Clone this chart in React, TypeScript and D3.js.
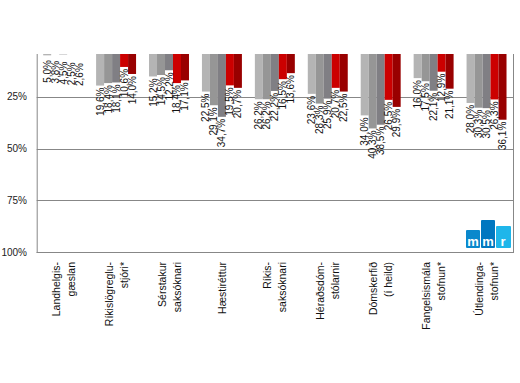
import React from "react";
import * as d3 from "d3";

const categories: string[][] = [
  ["Landhelgis-", "gæslan"],
  ["Ríkislögreglu-", "stjóri*"],
  ["Sérstakur", "saksóknari"],
  ["Hæstiréttur"],
  ["Ríkis-", "saksóknari"],
  ["Héraðsdóm-", "stólarnir"],
  ["Dómskerfið", "(í heild)"],
  ["Fangelsismála", "stofnun*"],
  ["Útlendinga-", "stofnun*"],
];

const seriesNames = ["s1", "s2", "s3", "s4", "s5"];
const seriesColors = ["#b4b4b4", "#969696", "#807f84", "#cc0000", "#990000"];

const s1 = [5.0, 19.6, 15.2, 22.5, 26.2, 23.6, 34.0, 16.0, 28.0];
const s2 = [3.8, 18.4, 14.5, 29.1, 26.2, 28.3, 40.3, 17.5, 30.3];
const s3 = [4.5, 18.1, 12.2, 34.7, 22.2, 25.9, 38.5, 22.1, 30.5];
const s4 = [2.5, 10.6, 18.4, 19.5, 16.5, 20.7, 26.5, 12.9, 26.3];
const s5 = [2.6, 14.0, 17.1, 20.7, 13.6, 22.5, 29.9, 21.1, 36.1];
const seriesValues = [s1, s2, s3, s4, s5];

const yTicks = [25, 50, 75, 100];

const W = 520;
const H = 383;
const left = 36.7;
const right = 513;
const top0 = 45;
const bottom = 252;
const clipTop = 54;

const fmt = (v: number) => v.toFixed(1).replace(".", ",") + "%";

export default function App() {
  const catKeys = categories.map((c) => c.join(" "));
  const x = d3
    .scaleBand<string>()
    .domain(catKeys)
    .range([left, right])
    .paddingInner(0.245)
    .paddingOuter(0.1225);
  const xs = d3
    .scaleBand<string>()
    .domain(seriesNames)
    .range([0, x.bandwidth()])
    .padding(0);
  const y = d3.scaleLinear().domain([0, 100]).range([top0, bottom]);
  const step = x.step();

  return (
    <svg
      width={W}
      height={H}
      style={{ position: "absolute", left: 0, top: 0, display: "block", background: "#fff" }}
      fontFamily="'Liberation Sans', Arial, sans-serif"
    >
      <defs>
        <clipPath id="plotClip">
          <rect x={0} y={clipTop} width={W} height={H - clipTop} />
        </clipPath>
      </defs>
      {/* gridlines */}
      {yTicks.map((t) => (
        <line
          key={t}
          x1={left}
          x2={right}
          y1={Math.round(y(t)) + 0.5}
          y2={Math.round(y(t)) + 0.5}
          stroke="#878787"
          strokeWidth={1}
        />
      ))}
      {/* bars */}
      <g clipPath="url(#plotClip)">
        {catKeys.map((c, ci) =>
          seriesNames.map((s, si) => (
            <rect
              key={c + s}
              x={(x(c) as number) + (xs(s) as number)}
              y={y(0)}
              width={xs.bandwidth()}
              height={y(seriesValues[si][ci]) - y(0)}
              fill={seriesColors[si]}
            />
          ))
        )}
      </g>
      {/* axes / frame */}
      <line x1={left + 0.5} x2={left + 0.5} y1={clipTop} y2={bottom + 0.5} stroke="#878787" />
      <line x1={right + 0.5} x2={right + 0.5} y1={clipTop} y2={bottom + 0.5} stroke="#878787" />
      {/* y tick labels */}
      {yTicks.map((t) => (
        <text
          key={"yl" + t}
          x={27}
          y={y(t)}
          dy="0.35em"
          textAnchor="end"
          fontSize={10}
          fill="#222"
        >
          {t + "%"}
        </text>
      ))}
      {/* value labels */}
      {catKeys.map((c, ci) =>
        seriesNames.map((s, si) => {
          const v = seriesValues[si][ci];
          const cx = (x(c) as number) + (xs(s) as number) + xs.bandwidth() / 2;
          const ty = Math.max(y(v) + 2, 60 + si * 0.8);
          return (
            <text
              key={"vl" + c + s}
              transform={`translate(${cx + 3.5},${ty}) rotate(-90)`}
              textAnchor="end"
              fontSize={10}
              fill="#111"
            >
              {fmt(v)}
            </text>
          );
        })
      )}
      {/* category labels */}
      {categories.map((lines, ci) => {
        const cx = (x(catKeys[ci]) as number) + x.bandwidth() / 2;
        const lh = 15;
        const n = lines.length;
        return lines.map((ln, li) => {
          const bx = cx + 4 + (li - (n - 1) / 2) * lh;
          return (
            <text
              key={"cl" + ci + li}
              transform={`translate(${bx},262) rotate(-90)`}
              textAnchor="end"
              fontSize={10.5}
              fill="#111"
            >
              {ln}
            </text>
          );
        });
      })}
      {/* bottom axis line */}
      <line x1={left} x2={right + 1} y1={bottom + 0.5} y2={bottom + 0.5} stroke="#878787" />
      {/* logo */}
      <g>
        <rect x={466} y={230} width={14} height={18} fill="#0a88cc" rx={1} />
        <rect x={481} y={220} width={14} height={28} fill="#0077c0" rx={1} />
        <rect x={496} y={226} width={15} height={22} fill="#1fb6ea" rx={1} />
        <text x={473} y={246} textAnchor="middle" fontSize={13} fontWeight="bold" fill="#fff">m</text>
        <text x={488} y={246} textAnchor="middle" fontSize={13} fontWeight="bold" fill="#fff">m</text>
        <text x={503} y={246} textAnchor="middle" fontSize={13} fontWeight="bold" fill="#fff">r</text>
      </g>
    </svg>
  );
}
